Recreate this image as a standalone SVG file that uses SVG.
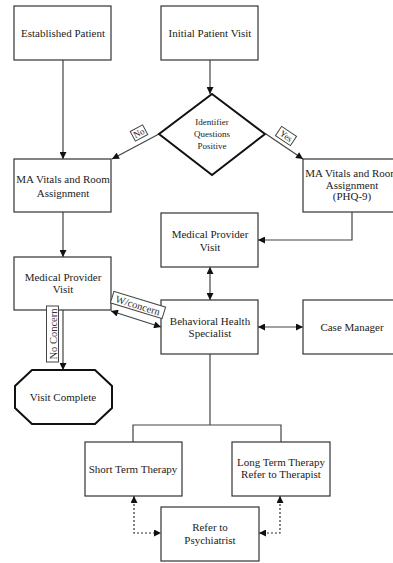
<svg xmlns="http://www.w3.org/2000/svg" width="393" height="563" viewBox="0 0 393 563" font-family="'Liberation Serif', 'Times New Roman', serif">
<defs>
<marker id="ah" viewBox="0 0 10 10" refX="10" refY="5" markerWidth="8" markerHeight="7" markerUnits="userSpaceOnUse" orient="auto-start-reverse">
<path d="M0,0 L10,5 L0,10 z" fill="#111"/>
</marker>
<style>
.box{fill:#fff;stroke:#333;stroke-width:1.2}
.thick{fill:#fff;stroke:#111;stroke-width:2}
.t{font-family:'Liberation Serif','Times New Roman',serif;font-size:11px;fill:#222;text-anchor:middle}
.s{font-family:'Liberation Serif','Times New Roman',serif;font-size:9px;fill:#222;text-anchor:middle}
.l{font-family:'Liberation Serif','Times New Roman',serif;font-size:10.5px;fill:#333;text-anchor:middle}
.c{fill:none;stroke:#444;stroke-width:1.2}
.d{fill:none;stroke:#333;stroke-width:1.2;stroke-dasharray:2,2}
.lb{fill:#fff;stroke:#444;stroke-width:1}
</style>
</defs>
<rect width="393" height="563" fill="#fff"/>
<g id="connectors">
<line class="c" x1="210" y1="60" x2="210" y2="94" marker-end="url(#ah)"/>
<line class="c" x1="63" y1="60" x2="63" y2="159" marker-end="url(#ah)"/>
<line class="c" x1="159" y1="134" x2="112" y2="159" marker-end="url(#ah)"/>
<line class="c" x1="266" y1="134" x2="303" y2="159" marker-end="url(#ah)"/>
<polyline class="c" points="352,212 352,240 258,240" marker-end="url(#ah)"/>
<line class="c" x1="63" y1="212" x2="63" y2="257" marker-end="url(#ah)"/>
<line class="c" x1="210" y1="267" x2="210" y2="300" marker-start="url(#ah)" marker-end="url(#ah)"/>
<line class="c" x1="258" y1="327" x2="303" y2="327" marker-start="url(#ah)" marker-end="url(#ah)"/>
<line class="c" x1="111" y1="311" x2="161" y2="327" marker-start="url(#ah)" marker-end="url(#ah)"/>
<line class="c" x1="63" y1="310" x2="63" y2="370" marker-end="url(#ah)"/>
<polyline class="c" points="210,354 210,425"/>
<polyline class="c" points="133,442 133,425 281,425 281,442"/>
<polyline class="d" points="134,496 134,533 161,533" marker-start="url(#ah)" marker-end="url(#ah)"/>
<polyline class="d" points="280,496 280,533 259,533" marker-start="url(#ah)" marker-end="url(#ah)"/>
</g>
<g id="established">
<rect class="box" x="14" y="6" width="97" height="54"/>
<text class="t" x="63" y="37">Established Patient</text>
</g>
<g id="initial">
<rect class="box" x="161" y="6" width="97" height="54"/>
<text class="t" x="210" y="37">Initial Patient Visit</text>
</g>
<g id="identifier">
<polygon class="thick" points="212,94 265,134 212,175 159,134"/>
<text class="s" x="212" y="125">Identifier</text>
<text class="s" x="212" y="137">Questions</text>
<text class="s" x="212" y="149">Positive</text>
</g>
<g id="ma-left">
<rect class="box" x="14" y="159" width="97" height="53"/>
<text class="t" x="63" y="183">MA Vitals and Room</text>
<text class="t" x="63" y="197">Assignment</text>
</g>
<g id="ma-right">
<rect class="box" x="303" y="159" width="97" height="53"/>
<text class="t" x="352" y="177">MA Vitals and Room</text>
<text class="t" x="352" y="189">Assignment</text>
<text class="t" x="352" y="200">(PHQ-9)</text>
</g>
<g id="mp-center">
<rect class="box" x="161" y="213" width="97" height="54"/>
<text class="t" x="210" y="238">Medical Provider</text>
<text class="t" x="210" y="251">Visit</text>
</g>
<g id="mp-left">
<rect class="box" x="14" y="257" width="97" height="53"/>
<text class="t" x="63" y="281">Medical Provider</text>
<text class="t" x="63" y="293">Visit</text>
</g>
<g id="bhs">
<rect class="box" x="161" y="300" width="97" height="54"/>
<text class="t" x="210" y="325">Behavioral Health</text>
<text class="t" x="210" y="337">Specialist</text>
</g>
<g id="case-manager">
<rect class="box" x="303" y="300" width="97" height="54"/>
<text class="t" x="352" y="331">Case Manager</text>
</g>
<g id="visit-complete">
<polygon class="thick" points="32,370 95,370 112,386 112,408 95,424 32,424 15,408 15,386"/>
<text class="t" x="63" y="401">Visit Complete</text>
</g>
<g id="short-term">
<rect class="box" x="85" y="442" width="97" height="54"/>
<text class="t" x="133" y="473">Short Term Therapy</text>
</g>
<g id="long-term">
<rect class="box" x="232" y="442" width="98" height="54"/>
<text class="t" x="281" y="466">Long Term Therapy</text>
<text class="t" x="281" y="478">Refer to Therapist</text>
</g>
<g id="psychiatrist">
<rect class="box" x="161" y="507" width="98" height="54"/>
<text class="t" x="210" y="531">Refer to</text>
<text class="t" x="210" y="544">Psychiatrist</text>
</g>
<g id="connector-labels">
<g id="label-no" transform="translate(139,133) rotate(-28)">
<rect class="lb" x="-7" y="-5.5" width="14" height="11"/>
<text class="s" x="0" y="3">No</text>
</g>
<g id="label-yes" transform="translate(286,136) rotate(34)">
<rect class="lb" x="-9" y="-5.5" width="18" height="11"/>
<text class="s" x="0" y="3">Yes</text>
</g>
<g id="label-wconcern" transform="translate(138,305) rotate(17)">
<rect class="lb" x="-27" y="-6" width="54" height="12"/>
<text class="l" x="0" y="4">W/concern</text>
</g>
<g id="label-noconcern" transform="translate(52.5,334) rotate(-90)">
<rect class="lb" x="-28" y="-6" width="56" height="12"/>
<text class="l" x="0" y="4">No Concern</text>
</g>
</g>
</svg>
